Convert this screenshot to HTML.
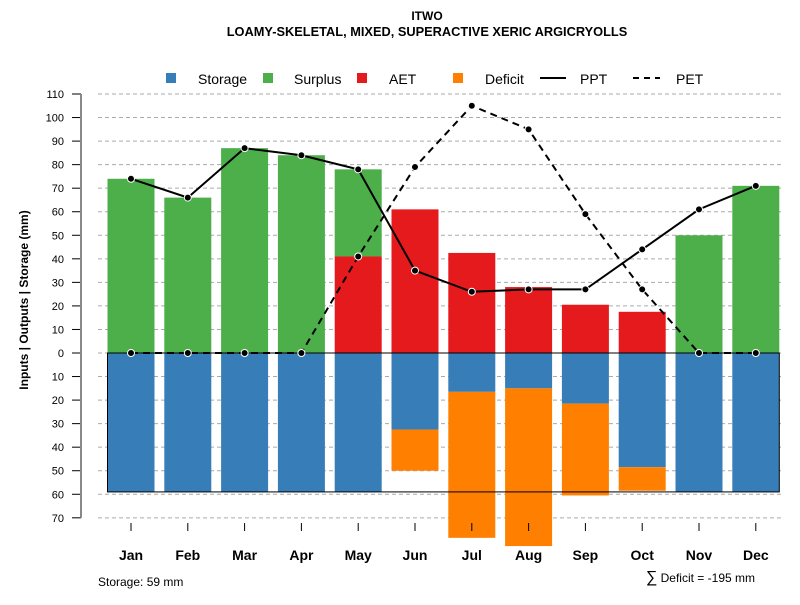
<!DOCTYPE html>
<html><head><meta charset="utf-8"><style>
body{margin:0;background:#fff}
svg text{font-family:"Liberation Sans",sans-serif}
</style></head><body>
<svg id="chart" width="800" height="600" xmlns="http://www.w3.org/2000/svg">
<text x="427" y="20" text-anchor="middle" font-size="12" font-weight="bold">ITWO</text>
<text x="427" y="36" text-anchor="middle" font-size="12.8" font-weight="bold">LOAMY-SKELETAL, MIXED, SUPERACTIVE XERIC ARGICRYOLLS</text>
<g id="grid"></g>
<g id="bars"></g>
<g id="lines"></g>
<g id="axes"></g>
<text transform="translate(28,300) rotate(-90)" text-anchor="middle" font-size="12" font-weight="bold">Inputs | Outputs | Storage    (mm)</text>
<g font-size="14">
<rect x="166" y="73" width="10" height="10" fill="#377eb8"/><text x="198" y="84">Storage</text>
<rect x="263" y="73" width="10" height="10" fill="#4daf4a"/><text x="294" y="84">Surplus</text>
<rect x="357" y="73" width="10" height="10" fill="#e41a1c"/><text x="389" y="84">AET</text>
<rect x="453" y="73" width="10" height="10" fill="#ff7f00"/><text x="485" y="84">Deficit</text>
<line x1="540" y1="78" x2="566" y2="78" stroke="#000" stroke-width="2"/><text x="580" y="84">PPT</text>
<line x1="633" y1="78" x2="660" y2="78" stroke="#000" stroke-width="2" stroke-dasharray="6,5"/><text x="676" y="84">PET</text>
</g>
<text x="98" y="586" font-size="12">Storage: 59 mm</text>
<text x="755" y="582" text-anchor="end" font-size="12"><tspan font-size="16">∑</tspan> Deficit = -195 mm</text>
</svg>
<script>
const months=["Jan","Feb","Mar","Apr","May","Jun","Jul","Aug","Sep","Oct","Nov","Dec"];
const surplus=[74,66,87,84,78,0,0,0,0,0,50,71];
const aet=[0,0,0,0,41,61,42.5,28,20.5,17.5,0,0];
const storage=[59,59,59,59,59,32.5,16.5,15,21.5,48.5,59,59];
const deficit=[0,0,0,0,0,17.5,62,67,39,10,0,0];
const ppt=[74,66,87,84,78,35,26,27,27,44,61,71];
const pet=[0,0,0,0,41,79,105,95,59,27,0,0];
const yTicks=[110,100,90,80,70,60,50,40,30,20,10,0,-10,-20,-30,-40,-50,-60,-70];
const awc=59;
const NS="http://www.w3.org/2000/svg";
const y=v=>353-v*2.3545;
const x=i=>131+i*56.8;
const bw=47;
function mk(tag,attrs,parent){const e=document.createElementNS(NS,tag);for(const k in attrs)e.setAttribute(k,attrs[k]);document.getElementById(parent).appendChild(e);return e;}
yTicks.forEach(t=>{
 const g=mk("line",{x1:98,x2:782,y1:y(t),y2:y(t),stroke:"#aaa","stroke-dasharray":"4,3"},"grid");
 
 
 const tk=mk("line",{x1:72,x2:81,y1:y(t),y2:y(t),stroke:"#000"},"axes");
 
 
 const tl=mk("text",{x:64,y:y(t)+4,"text-anchor":"end","font-size":"11"},"axes");
 tl.textContent=Math.abs(t);
 
 
});
const ax=mk("line",{x1:81,x2:81,y1:y(110),y2:y(-70),stroke:"#888","stroke-width":2},"axes");


months.forEach((m,i)=>{
 const cx=x(i),l=cx-bw/2;
 function bar(top,bot,col,name){if(top===bot)return;const r=mk("rect",{x:l,y:y(top),width:bw,height:y(bot)-y(top),fill:col},"bars");
  
  }
 bar(surplus[i]+aet[i]>0?Math.max(surplus[i],aet[i]):0,aet[i],"#4daf4a","bar-surplus-"+m.toLowerCase());
 bar(aet[i],0,"#e41a1c","bar-aet-"+m.toLowerCase());
 bar(0,-storage[i],"#377eb8","bar-storage-"+m.toLowerCase());
 bar(-storage[i],-storage[i]-deficit[i],"#ff7f00","bar-deficit-"+m.toLowerCase());
 const tk=mk("line",{x1:cx,x2:cx,y1:523,y2:531,stroke:"#000"},"axes");
 
 
 const tl=mk("text",{x:cx,y:560,"text-anchor":"middle","font-size":"14","font-weight":"bold"},"axes");
 tl.textContent=m;
 
 
});
const box=mk("rect",{x:x(0)-bw/2,y:y(0),width:x(11)-x(0)+bw,height:y(-awc)-y(0),fill:"none",stroke:"#000"},"bars");


function series(arr,dash,name){
 const p=mk("polyline",{points:arr.map((v,i)=>x(i)+","+y(v)).join(" "),fill:"none",stroke:"#000","stroke-width":2,"stroke-dasharray":dash},"lines");
 
 
 arr.forEach((v,i)=>{const c=mk("circle",{cx:x(i),cy:y(v),r:3.5,fill:"#000",stroke:"#fff","stroke-width":1},"lines");
  
  });
}
series(pet,"7,5","pet");
series(ppt,"none","ppt");
</script>
</body></html>
